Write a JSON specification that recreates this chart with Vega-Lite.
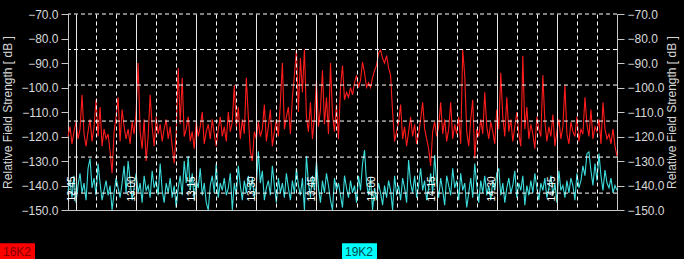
{
"$schema": "https://vega.github.io/schema/vega-lite/v6.json",
"width": 549, "height": 196,
"autosize": {"type": "none"},
"padding": {"left": 68, "top": 14, "right": 67, "bottom": 49},
"background": "#000000",
"config": {"view": {"stroke": null}, "font": "Liberation Sans",
  "axis": {"labelColor": "#d8d8d8", "titleColor": "#d8d8d8", "domainColor": "#c8c8c8", "tickColor": "#c8c8c8", "labelFontSize": 12, "titleFontSize": 12, "titleFontWeight": "normal", "labelFont": "Liberation Sans", "titleFont": "Liberation Sans"}},
"layer": [
 {
  "encoding": {
   "x": {"field": "t", "type": "quantitative", "scale": {"domain": [43, 180], "nice": false, "zero": false},
     "axis": {"values": [45,50,55,60,65,70,75,80,85,90,95,100,105,110,115,120,125,130,135,140,145,150,155,160,165,170,175],
       "labelExpr": "datum.value % 15 === 0 ? (12 + floor(datum.value / 60)) + ':' + (datum.value % 60 < 10 ? '0' : '') + (datum.value % 60) : ''",
       "labelAngle": 270, "labelAlign": "left", "labelBaseline": "bottom", "labelPadding": -9, "ticks": false, "tickSize": 0,
       "domain": true, "grid": true,
       "gridColor": {"condition": {"test": "datum.value % 15 === 0", "value": "#e8e8e8"}, "value": "#ffffff"},
       "gridDash": {"condition": {"test": "datum.value % 15 === 0", "value": []}, "value": [4, 3]},
       "title": null, "labelFontSize": 10, "labelColor": "#ffffff", "labelOverlap": false, "labelFlush": false, "labelBound": false, "zindex": 1}},
   "y": {"field": "v", "type": "quantitative", "scale": {"domain": [-150, -70], "nice": false, "zero": false},
     "axis": {"orient": "left", "values": [-150,-140,-130,-120,-110,-100,-90,-80,-70], "format": ".1f", "grid": false, "tickSize": 7, "labelPadding": 3, "title": "Relative Field Strength [ dB ]", "titlePadding": 6}}
  },
  "layer": [
   {"data": {"values": [
{"t":43,"v":-120},{"t":43.5,"v":-116},{"t":44,"v":-123},{"t":44.5,"v":-118},{"t":45,"v":-114},{"t":45.5,"v":-121},{"t":46,"v":-117},{"t":46.5,"v":-103},{"t":47,"v":-119},{"t":47.5,"v":-124},
{"t":48,"v":-118},{"t":48.5,"v":-113},{"t":49,"v":-122},{"t":49.5,"v":-116},{"t":50,"v":-105},{"t":50.5,"v":-120},{"t":51,"v":-108},{"t":51.5,"v":-124},{"t":52,"v":-117},{"t":52.5,"v":-121},
{"t":53,"v":-119},{"t":53.5,"v":-126},{"t":54,"v":-135},{"t":54.5,"v":-118},{"t":55,"v":-112},{"t":55.5,"v":-104},{"t":56,"v":-122},{"t":56.5,"v":-109},{"t":57,"v":-116},{"t":57.5,"v":-121},
{"t":58,"v":-117},{"t":58.5,"v":-123},{"t":59,"v":-114},{"t":59.5,"v":-119},{"t":60,"v":-110},{"t":60.5,"v":-90},{"t":61,"v":-118},{"t":61.5,"v":-125},{"t":62,"v":-113},{"t":62.5,"v":-130},
{"t":63,"v":-120},{"t":63.5,"v":-103},{"t":64,"v":-116},{"t":64.5,"v":-124},{"t":65,"v":-112},{"t":65.5,"v":-119},{"t":66,"v":-115},{"t":66.5,"v":-122},{"t":67,"v":-117},{"t":67.5,"v":-113},
{"t":68,"v":-121},{"t":68.5,"v":-116},{"t":69,"v":-124},{"t":69.5,"v":-131},{"t":70,"v":-118},{"t":70.5,"v":-92},{"t":71,"v":-115},{"t":71.5,"v":-96},{"t":72,"v":-120},{"t":72.5,"v":-117},
{"t":73,"v":-112},{"t":73.5,"v":-122},{"t":74,"v":-118},{"t":74.5,"v":-125},{"t":75,"v":-114},{"t":75.5,"v":-120},{"t":76,"v":-116},{"t":76.5,"v":-110},{"t":77,"v":-123},{"t":77.5,"v":-118},
{"t":78,"v":-115},{"t":78.5,"v":-121},{"t":79,"v":-113},{"t":79.5,"v":-119},{"t":80,"v":-124},{"t":80.5,"v":-117},{"t":81,"v":-112},{"t":81.5,"v":-120},{"t":82,"v":-116},{"t":82.5,"v":-122},
{"t":83,"v":-110},{"t":83.5,"v":-118},{"t":84,"v":-114},{"t":84.5,"v":-99},{"t":85,"v":-116},{"t":85.5,"v":-108},{"t":86,"v":-121},{"t":86.5,"v":-113},{"t":87,"v":-119},{"t":87.5,"v":-96},
{"t":88,"v":-112},{"t":88.5,"v":-126},{"t":89,"v":-130},{"t":89.5,"v":-118},{"t":90,"v":-121},{"t":90.5,"v":-114},{"t":91,"v":-120},{"t":91.5,"v":-117},{"t":92,"v":-107},{"t":92.5,"v":-122},
{"t":93,"v":-116},{"t":93.5,"v":-109},{"t":94,"v":-124},{"t":94.5,"v":-118},{"t":95,"v":-113},{"t":95.5,"v":-120},{"t":96,"v":-106},{"t":96.5,"v":-90},{"t":97,"v":-117},{"t":97.5,"v":-112},
{"t":98,"v":-108},{"t":98.5,"v":-119},{"t":99,"v":-104},{"t":99.5,"v":-95},{"t":100,"v":-84.5},{"t":100.5,"v":-110},{"t":101,"v":-88},{"t":101.5,"v":-102},{"t":102,"v":-84.5},{"t":102.5,"v":-112},
{"t":103,"v":-118},{"t":103.5,"v":-106},{"t":104,"v":-121},{"t":104.5,"v":-112},{"t":105,"v":-97},{"t":105.5,"v":-116},{"t":106,"v":-109},{"t":106.5,"v":-93},{"t":107,"v":-115},{"t":107.5,"v":-104},
{"t":108,"v":-119},{"t":108.5,"v":-90},{"t":109,"v":-111},{"t":109.5,"v":-118},{"t":110,"v":-107},{"t":110.5,"v":-121},{"t":111,"v":-100},{"t":111.5,"v":-91},{"t":112,"v":-105},{"t":112.5,"v":-102},
{"t":113,"v":-104},{"t":113.5,"v":-100},{"t":114,"v":-103},{"t":114.5,"v":-98},{"t":115,"v":-95},{"t":115.5,"v":-100},{"t":116,"v":-97},{"t":116.5,"v":-89.6},{"t":117,"v":-94},{"t":117.5,"v":-100},
{"t":118,"v":-98},{"t":118.5,"v":-100},{"t":119,"v":-96},{"t":119.5,"v":-93},{"t":120,"v":-91},{"t":120.5,"v":-86},{"t":121,"v":-84.7},{"t":121.5,"v":-88},{"t":122,"v":-90},{"t":122.5,"v":-87},
{"t":123,"v":-92},{"t":123.5,"v":-95},{"t":124,"v":-110},{"t":124.5,"v":-122},{"t":125,"v":-118},{"t":125.5,"v":-114},{"t":126,"v":-107},{"t":126.5,"v":-121},{"t":127,"v":-116},{"t":127.5,"v":-124},
{"t":128,"v":-118},{"t":128.5,"v":-112},{"t":129,"v":-120},{"t":129.5,"v":-115},{"t":130,"v":-123},{"t":130.5,"v":-119},{"t":131,"v":-113},{"t":131.5,"v":-106},{"t":132,"v":-117},{"t":132.5,"v":-121},
{"t":133,"v":-125},{"t":133.5,"v":-132},{"t":134,"v":-118},{"t":134.5,"v":-114},{"t":135,"v":-120},{"t":135.5,"v":-116},{"t":136,"v":-106},{"t":136.5,"v":-119},{"t":137,"v":-113},{"t":137.5,"v":-122},
{"t":138,"v":-117},{"t":138.5,"v":-106},{"t":139,"v":-121},{"t":139.5,"v":-115},{"t":140,"v":-119},{"t":140.5,"v":-112},{"t":141,"v":-123},{"t":141.5,"v":-84.7},{"t":142,"v":-95},{"t":142.5,"v":-118},
{"t":143,"v":-124},{"t":143.5,"v":-113},{"t":144,"v":-105},{"t":144.5,"v":-129},{"t":145,"v":-117},{"t":145.5,"v":-120},{"t":146,"v":-113},{"t":146.5,"v":-119},{"t":147,"v":-102},{"t":147.5,"v":-116},
{"t":148,"v":-121},{"t":148.5,"v":-114},{"t":149,"v":-118},{"t":149.5,"v":-123},{"t":150,"v":-109},{"t":150.5,"v":-117},{"t":151,"v":-94},{"t":151.5,"v":-112},{"t":152,"v":-120},{"t":152.5,"v":-104},
{"t":153,"v":-118},{"t":153.5,"v":-113},{"t":154,"v":-122},{"t":154.5,"v":-116},{"t":155,"v":-110},{"t":155.5,"v":-119},{"t":156,"v":-124},{"t":156.5,"v":-87},{"t":157,"v":-117},{"t":157.5,"v":-108},
{"t":158,"v":-121},{"t":158.5,"v":-115},{"t":159,"v":-119},{"t":159.5,"v":-125},{"t":160,"v":-112},{"t":160.5,"v":-117},{"t":161,"v":-120},{"t":161.5,"v":-95},{"t":162,"v":-114},{"t":162.5,"v":-122},
{"t":163,"v":-116},{"t":163.5,"v":-120},{"t":164,"v":-111},{"t":164.5,"v":-124},{"t":165,"v":-118},{"t":165.5,"v":-113},{"t":166,"v":-121},{"t":166.5,"v":-116},{"t":167,"v":-99},{"t":167.5,"v":-119},
{"t":168,"v":-123},{"t":168.5,"v":-114},{"t":169,"v":-118},{"t":169.5,"v":-120},{"t":170,"v":-112},{"t":170.5,"v":-122},{"t":171,"v":-117},{"t":171.5,"v":-119},{"t":172,"v":-104},{"t":172.5,"v":-115},
{"t":173,"v":-120},{"t":173.5,"v":-109},{"t":174,"v":-121},{"t":174.5,"v":-116},{"t":175,"v":-118},{"t":175.5,"v":-113},{"t":176,"v":-123},{"t":176.5,"v":-106},{"t":177,"v":-117},{"t":177.5,"v":-121},
{"t":178,"v":-119},{"t":178.5,"v":-123},{"t":179,"v":-117},{"t":179.5,"v":-124},{"t":180,"v":-128}
    ]},
    "mark": {"type": "line", "strokeWidth": 1.1},
    "encoding": {"color": {"datum": "16K2", "type": "nominal",
      "scale": {"domain": ["16K2", "19K2"], "range": ["#ff1c1c", "#3cdcdc"]},
      "legend": {"orient": "none", "legendX": -68, "legendY": 220, "direction": "horizontal", "title": null,
        "symbolType": "M-1,-0.5H1V0.5H-1Z", "symbolSize": 1225, "symbolStrokeWidth": 0, "labelOffset": -32, "labelFontSize": 12, "columnPadding": 307,
        "encode": {"symbols": {"update": {"fill": {"signal": "datum.value === '16K2' ? '#ff0000' : '#00ffff'"}, "stroke": {"value": "transparent"}, "opacity": {"value": 1}}},
                   "labels": {"update": {"fill": {"signal": "datum.value === '16K2' ? '#800000' : '#004848'"}}}}}}}
   },
   {"data": {"values": [
{"t":43,"v":-142},{"t":43.5,"v":-138},{"t":44,"v":-145},{"t":44.5,"v":-136},{"t":45,"v":-147},{"t":45.5,"v":-140},{"t":46,"v":-135},{"t":46.5,"v":-143},{"t":47,"v":-139},{"t":47.5,"v":-146},
{"t":48,"v":-133},{"t":48.5,"v":-129},{"t":49,"v":-141},{"t":49.5,"v":-137},{"t":50,"v":-144},{"t":50.5,"v":-131},{"t":51,"v":-139},{"t":51.5,"v":-146},{"t":52,"v":-142},{"t":52.5,"v":-138},
{"t":53,"v":-144},{"t":53.5,"v":-140},{"t":54,"v":-150},{"t":54.5,"v":-143},{"t":55,"v":-137},{"t":55.5,"v":-141},{"t":56,"v":-145},{"t":56.5,"v":-139},{"t":57,"v":-132},{"t":57.5,"v":-143},
{"t":58,"v":-130},{"t":58.5,"v":-138},{"t":59,"v":-146},{"t":59.5,"v":-141},{"t":60,"v":-135},{"t":60.5,"v":-143},{"t":61,"v":-139},{"t":61.5,"v":-147},{"t":62,"v":-136},{"t":62.5,"v":-142},
{"t":63,"v":-140},{"t":63.5,"v":-145},{"t":64,"v":-134},{"t":64.5,"v":-141},{"t":65,"v":-138},{"t":65.5,"v":-144},{"t":66,"v":-131},{"t":66.5,"v":-142},{"t":67,"v":-147},{"t":67.5,"v":-139},
{"t":68,"v":-143},{"t":68.5,"v":-137},{"t":69,"v":-145},{"t":69.5,"v":-140},{"t":70,"v":-149},{"t":70.5,"v":-141},{"t":71,"v":-136},{"t":71.5,"v":-144},{"t":72,"v":-130},{"t":72.5,"v":-139},
{"t":73,"v":-128},{"t":73.5,"v":-142},{"t":74,"v":-135},{"t":74.5,"v":-146},{"t":75,"v":-138},{"t":75.5,"v":-141},{"t":76,"v":-133},{"t":76.5,"v":-144},{"t":77,"v":-139},{"t":77.5,"v":-147},
{"t":78,"v":-150},{"t":78.5,"v":-140},{"t":79,"v":-136},{"t":79.5,"v":-143},{"t":80,"v":-131},{"t":80.5,"v":-145},{"t":81,"v":-139},{"t":81.5,"v":-142},{"t":82,"v":-137},{"t":82.5,"v":-144},
{"t":83,"v":-141},{"t":83.5,"v":-135},{"t":84,"v":-150},{"t":84.5,"v":-139},{"t":85,"v":-144},{"t":85.5,"v":-132},{"t":86,"v":-140},{"t":86.5,"v":-146},{"t":87,"v":-138},{"t":87.5,"v":-143},
{"t":88,"v":-136},{"t":88.5,"v":-142},{"t":89,"v":-137},{"t":89.5,"v":-145},{"t":90,"v":-140},{"t":90.5,"v":-126},{"t":91,"v":-139},{"t":91.5,"v":-134},{"t":92,"v":-146},{"t":92.5,"v":-141},
{"t":93,"v":-138},{"t":93.5,"v":-144},{"t":94,"v":-132},{"t":94.5,"v":-140},{"t":95,"v":-147},{"t":95.5,"v":-137},{"t":96,"v":-143},{"t":96.5,"v":-139},{"t":97,"v":-145},{"t":97.5,"v":-135},
{"t":98,"v":-141},{"t":98.5,"v":-146},{"t":99,"v":-138},{"t":99.5,"v":-143},{"t":100,"v":-133},{"t":100.5,"v":-140},{"t":101,"v":-144},{"t":101.5,"v":-137},{"t":102,"v":-150},{"t":102.5,"v":-128},
{"t":103,"v":-139},{"t":103.5,"v":-145},{"t":104,"v":-136},{"t":104.5,"v":-142},{"t":105,"v":-130},{"t":105.5,"v":-141},{"t":106,"v":-147},{"t":106.5,"v":-138},{"t":107,"v":-143},{"t":107.5,"v":-135},
{"t":108,"v":-140},{"t":108.5,"v":-146},{"t":109,"v":-150},{"t":109.5,"v":-137},{"t":110,"v":-142},{"t":110.5,"v":-139},{"t":111,"v":-144},{"t":111.5,"v":-149},{"t":112,"v":-136},{"t":112.5,"v":-141},
{"t":113,"v":-145},{"t":113.5,"v":-138},{"t":114,"v":-143},{"t":114.5,"v":-140},{"t":115,"v":-147},{"t":115.5,"v":-136},{"t":116,"v":-142},{"t":116.5,"v":-131},{"t":117,"v":-125.5},{"t":117.5,"v":-139},
{"t":118,"v":-144},{"t":118.5,"v":-137},{"t":119,"v":-150},{"t":119.5,"v":-141},{"t":120,"v":-146},{"t":120.5,"v":-139},{"t":121,"v":-143},{"t":121.5,"v":-148},{"t":122,"v":-140},{"t":122.5,"v":-145},
{"t":123,"v":-138},{"t":123.5,"v":-142},{"t":124,"v":-150},{"t":124.5,"v":-136},{"t":125,"v":-144},{"t":125.5,"v":-140},{"t":126,"v":-146},{"t":126.5,"v":-137},{"t":127,"v":-141},{"t":127.5,"v":-147},
{"t":128,"v":-129.6},{"t":128.5,"v":-139},{"t":129,"v":-143},{"t":129.5,"v":-136},{"t":130,"v":-145},{"t":130.5,"v":-140},{"t":131,"v":-133},{"t":131.5,"v":-142},{"t":132,"v":-138},{"t":132.5,"v":-146},
{"t":133,"v":-141},{"t":133.5,"v":-135},{"t":134,"v":-143},{"t":134.5,"v":-127.6},{"t":135,"v":-139},{"t":135.5,"v":-145},{"t":136,"v":-137},{"t":136.5,"v":-142},{"t":137,"v":-148},{"t":137.5,"v":-136},
{"t":138,"v":-140},{"t":138.5,"v":-144},{"t":139,"v":-133},{"t":139.5,"v":-141},{"t":140,"v":-138},{"t":140.5,"v":-146},{"t":141,"v":-135},{"t":141.5,"v":-142},{"t":142,"v":-139},{"t":142.5,"v":-149},
{"t":143,"v":-143},{"t":143.5,"v":-137},{"t":144,"v":-145},{"t":144.5,"v":-131},{"t":145,"v":-140},{"t":145.5,"v":-147},{"t":146,"v":-138},{"t":146.5,"v":-143},{"t":147,"v":-136},{"t":147.5,"v":-144},
{"t":148,"v":-140},{"t":148.5,"v":-146},{"t":149,"v":-138},{"t":149.5,"v":-142},{"t":150,"v":-135},{"t":150.5,"v":-133},{"t":151,"v":-144},{"t":151.5,"v":-139},{"t":152,"v":-147},{"t":152.5,"v":-141},
{"t":153,"v":-137},{"t":153.5,"v":-143},{"t":154,"v":-140},{"t":154.5,"v":-134},{"t":155,"v":-145},{"t":155.5,"v":-139},{"t":156,"v":-142},{"t":156.5,"v":-136},{"t":157,"v":-148},{"t":157.5,"v":-140},
{"t":158,"v":-144},{"t":158.5,"v":-138},{"t":159,"v":-143},{"t":159.5,"v":-135},{"t":160,"v":-141},{"t":160.5,"v":-146},{"t":161,"v":-139},{"t":161.5,"v":-142},{"t":162,"v":-137},{"t":162.5,"v":-145},
{"t":163,"v":-141},{"t":163.5,"v":-136},{"t":164,"v":-144},{"t":164.5,"v":-139},{"t":165,"v":-147},{"t":165.5,"v":-134},{"t":166,"v":-142},{"t":166.5,"v":-140},{"t":167,"v":-145},{"t":167.5,"v":-138},
{"t":168,"v":-143},{"t":168.5,"v":-137},{"t":169,"v":-140},{"t":169.5,"v":-146},{"t":170,"v":-135},{"t":170.5,"v":-141},{"t":171,"v":-138},{"t":171.5,"v":-132},{"t":172,"v":-136},{"t":172.5,"v":-127},
{"t":173,"v":-126.3},{"t":173.5,"v":-134},{"t":174,"v":-140},{"t":174.5,"v":-131},{"t":175,"v":-138},{"t":175.5,"v":-127},{"t":176,"v":-136},{"t":176.5,"v":-142},{"t":177,"v":-133.7},{"t":177.5,"v":-139},
{"t":178,"v":-141},{"t":178.5,"v":-137},{"t":179,"v":-143},{"t":179.5,"v":-140},{"t":180,"v":-142}
    ]},
    "mark": {"type": "line", "strokeWidth": 1.1},
    "encoding": {"color": {"datum": "19K2", "type": "nominal"}}
   }
  ]
 },
 {
  "data": {"values": [{"g": -70}, {"g": -84.5}, {"g": -99}, {"g": -113.7}, {"g": -128.4}, {"g": -143.1}]},
  "mark": {"type": "rule", "color": "#ffffff", "strokeDash": [4, 3], "strokeWidth": 1},
  "encoding": {"y": {"field": "g", "type": "quantitative",
    "axis": {"orient": "right", "values": [-150,-140,-130,-120,-110,-100,-90,-80,-70], "format": ".1f", "grid": false, "tickSize": 7, "labelPadding": 3, "title": "Relative Field Strength [ dB ]", "titleAngle": 270, "titlePadding": 14}}}
 }
],
"resolve": {"axis": {"y": "independent"}}
}
